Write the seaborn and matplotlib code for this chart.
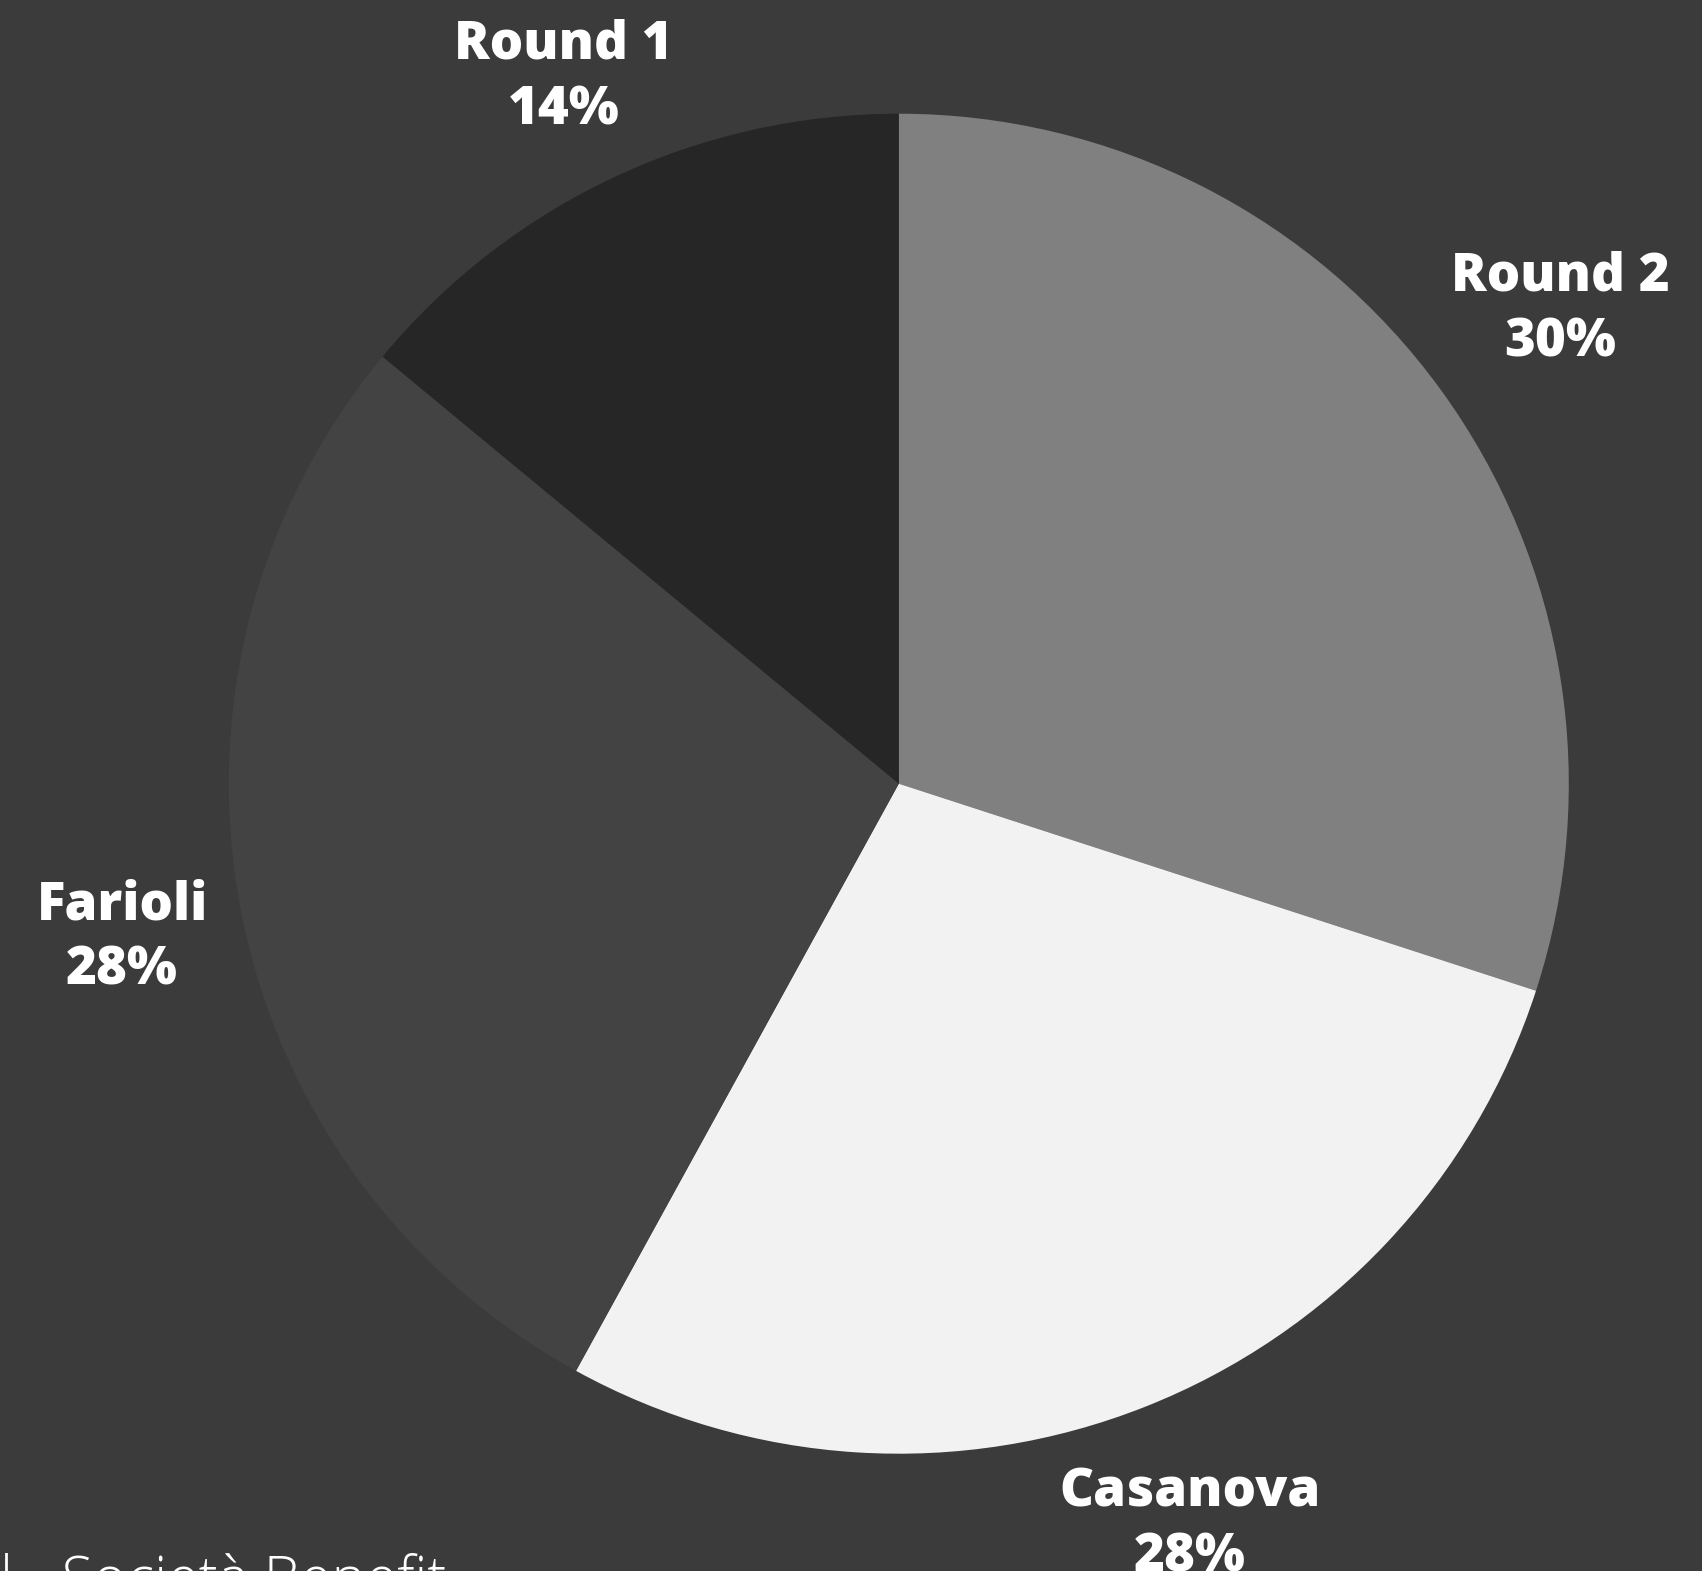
import numpy as np
import matplotlib
matplotlib.use("Agg")
import matplotlib.pyplot as plt
import seaborn as sns

# Data
categories = ["Round 2", "Casanova", "Farioli", "Round 1"]
values = [30, 28, 28, 14]
slice_colors = ["#808080", "#f2f2f2", "#434343", "#262626"]
footer_text = "l - Società Benefit"

BG = "#3b3b3b"
sns.set_theme(style="white")
plt.rcParams["font.family"] = ["Open Sans", "DejaVu Sans"]

W, H = 1702, 1571
fig = plt.figure(figsize=(W / 100, H / 100), dpi=100)
fig.patch.set_facecolor(BG)

cx, cy, R = 898.8, 783.7, 670.0
ax = fig.add_axes([(cx - R) / W, (H - cy - R) / H, 2 * R / W, 2 * R / H])
ax.set_facecolor(BG)

total = sum(values)
labels = [f"{c}\n{v / total * 100:.0f}%" for c, v in zip(categories, values)]

wedges, texts = ax.pie(values, colors=slice_colors, startangle=90,
                       counterclock=False, labels=labels, labeldistance=1.18,
                       wedgeprops=dict(linewidth=0),
                       textprops=dict(color="white", fontsize=38, fontweight=800))
dists = [1.22, 1.18, 1.18, 1.175]
for w, t, d in zip(wedges, texts, dists):
    ang = np.deg2rad((w.theta1 + w.theta2) / 2)
    t.set_position((d * np.cos(ang), d * np.sin(ang) - 0.01))
    t.set_ha("center")
    t.set_va("center")
    t.set_linespacing(1.32)
    t.set_clip_on(False)

ax.set_xlim(-1, 1)
ax.set_ylim(-1, 1)
ax.set_aspect("equal")
ax.axis("off")

fig.text(0.0, -26 / H, footer_text, color="white", fontsize=41.5,
         fontweight="light", ha="left", va="baseline")

fig.savefig("out.png", dpi=100, facecolor=BG)
